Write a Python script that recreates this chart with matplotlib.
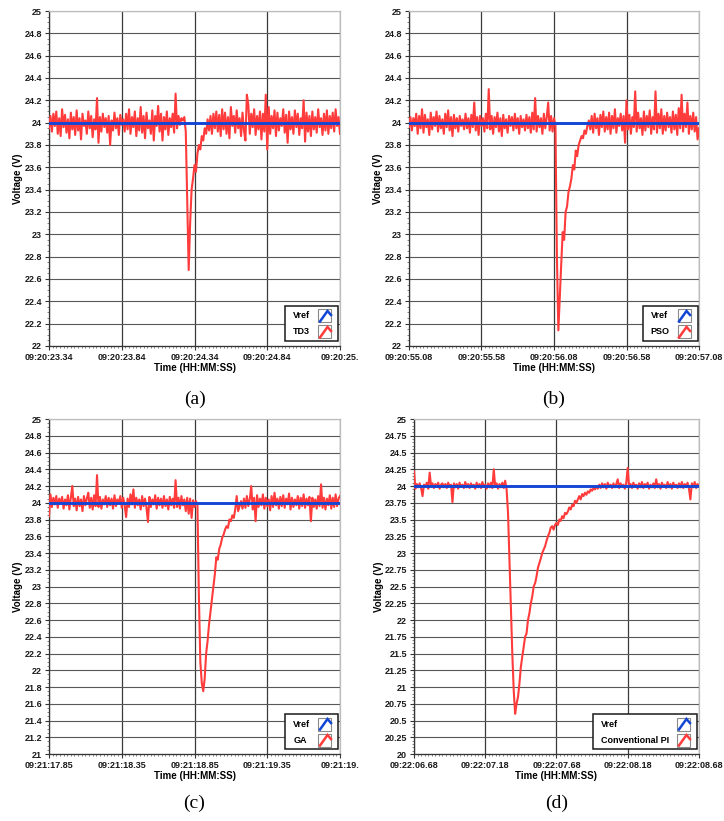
#!/usr/bin/env python
# -*- coding: utf-8 -*-
"""
Load-step response of the DC bus voltage for four controllers (TD3, PSO, GA, PI),
redrawn in the LabVIEW chart look: white plot area, grey grid, small legend box.
"""

import matplotlib

matplotlib.use("Agg")  # headless
import matplotlib.pyplot as plt
import numpy as np
from matplotlib.lines import Line2D
from matplotlib.patches import Rectangle
from matplotlib.ticker import FixedLocator, MultipleLocator

plt.rcParams["font.family"] = ["Liberation Sans", "DejaVu Sans"]

FIG_W, FIG_H = 724, 821  # px at dpi 100
DT = 0.01  # s between logged samples
VREF = 24.0  # V

TD3_V = [
    23.95, 24.06, 23.92, 24.08, 23.97, 24.10, 23.90, 24.04, 23.88, 24.12, 23.96, 24.07, 23.91, 24.03, 23.86, 24.09, 23.94, 24.05, 23.89, 24.11,
    23.93, 24.04, 23.85, 24.08, 23.97, 24.02, 23.90, 24.10, 23.95, 24.06, 23.87, 24.03, 23.94, 24.22, 23.82, 24.05, 23.92, 24.08, 23.96, 24.04,
    23.91, 24.06, 23.80, 24.02, 23.93, 24.09, 23.95, 24.04, 23.89, 24.07, 23.98, 24.03, 23.92, 24.08, 23.94, 24.12, 23.90, 24.05, 23.96, 24.10,
    23.88, 24.04, 23.93, 24.14, 23.91, 24.06, 23.86, 24.09, 23.95, 24.02, 23.90, 24.11, 23.84, 24.06, 23.97, 24.15, 23.92, 24.08, 23.84, 24.05,
    23.94, 24.10, 23.89, 24.04, 23.96, 24.08, 23.91, 24.26, 23.95, 24.06, 23.98, 24.04, 24.02, 24.05, 23.92,
    23.30, 22.68, 23.10, 23.40, 23.50, 23.62, 23.56, 23.72, 23.80, 23.76, 23.88, 23.84, 23.95, 23.90, 24.03, 23.93, 24.06, 23.90, 24.08, 23.95,
    24.10, 23.92, 24.07, 23.88, 24.12,
    23.94, 24.09, 23.90, 24.05, 23.86, 24.14, 23.97, 24.06, 23.91, 24.11, 23.95, 24.04, 23.88, 24.09, 23.93, 23.84, 24.25, 24.16, 23.90, 24.08,
    23.96, 24.12, 23.89, 24.06, 23.94, 24.10, 23.85, 24.08, 23.92, 24.25, 23.76, 24.14, 23.90, 24.06, 23.95, 24.11, 23.88, 24.09, 23.93, 24.04,
    23.97, 24.12, 23.91, 24.07, 23.82, 24.10, 23.94, 24.05, 23.90, 24.11, 23.96, 24.08, 23.89, 24.04, 23.95, 24.20, 23.83, 24.09, 23.92, 24.06,
    23.88, 24.10, 23.94, 24.05, 23.91, 24.12, 23.96, 24.04, 23.89, 24.08, 23.93, 24.11, 23.90, 24.06, 23.95, 24.09, 23.92, 24.12, 23.97, 24.05,
    23.90,
]

PSO_V = [
    23.96, 24.05, 23.93, 24.04, 23.97, 24.08, 23.90, 24.06, 23.95, 24.12, 23.91, 24.07, 23.96, 24.03, 23.89, 24.09, 23.94, 24.05, 23.97, 24.10,
    23.92, 24.06, 23.95, 24.03, 23.90, 24.08, 23.96, 24.11, 23.93, 24.05, 23.88, 24.07, 23.95, 24.04, 23.92, 24.06, 23.97, 24.03, 23.94, 24.08,
    23.95, 24.04, 23.91, 24.07, 23.96, 24.18, 23.93, 24.05, 23.89, 24.06, 23.97, 24.04, 23.92, 24.08, 23.95, 24.30, 23.94, 24.06, 23.90, 24.05,
    23.96, 24.09, 23.92, 24.04, 23.88, 24.07, 23.95, 24.03, 23.91, 24.06, 23.97, 24.05, 23.93, 24.08, 23.95, 24.04, 23.90, 24.06, 23.96, 24.03,
    23.93, 24.07, 23.95, 24.05, 23.91, 24.09, 23.94, 24.22, 23.92, 24.06, 23.96, 24.04, 23.90, 24.08, 23.95, 24.05, 24.18, 23.93, 24.06, 23.92,
    24.04, 23.97,
    22.80, 22.14, 22.45, 22.74, 23.02, 22.95, 23.20, 23.25, 23.38, 23.43, 23.50, 23.62, 23.58, 23.75, 23.70, 23.80, 23.84, 23.88, 23.86, 23.93,
    23.90, 23.97, 24.02, 23.94,
    24.06, 23.91, 24.08, 23.95, 24.04, 23.89, 24.07, 23.96, 24.10, 23.92, 24.05, 23.94, 24.09, 23.90,
    24.06, 23.95, 24.12, 23.91, 24.04, 23.97, 24.08, 23.93, 24.06, 23.82, 24.20, 23.94, 24.07, 23.90, 24.05, 23.96, 24.28, 23.92, 24.09, 23.95,
    24.04, 23.89, 24.10, 23.93, 24.06, 23.96, 24.11, 23.90, 24.05, 23.94, 24.28, 23.91, 24.08, 23.95, 24.12, 23.90, 24.06, 23.93, 24.09, 23.96,
    24.05, 23.91, 24.10, 23.94, 24.07, 23.89, 24.13, 23.95, 24.25, 23.92, 24.08, 23.96, 24.18, 23.90, 24.06, 23.94, 24.09, 23.92, 24.05, 23.85,
    23.95,
]

GA_V = [
    23.84, 24.10, 23.95, 24.06, 23.98, 24.08, 23.94, 24.05, 23.99, 24.07, 23.93, 24.04, 23.97, 24.09, 23.92, 24.06, 24.20, 23.96, 24.05, 23.91,
    24.07, 23.96, 24.04, 23.90, 24.08, 23.97, 24.05, 24.12, 23.94, 24.06, 23.92, 24.09, 23.96, 24.33, 23.95, 24.07, 23.93, 24.04, 23.98, 24.08,
    23.95, 24.06, 23.97, 24.05, 23.93, 24.09, 23.96, 24.04, 23.99, 24.08, 23.94, 24.06, 23.97, 23.83, 24.05, 23.95, 24.10, 23.98, 24.16, 23.94,
    24.06, 23.97, 24.04, 23.92, 24.08, 23.96, 24.05, 23.94, 23.77, 24.07, 23.95, 24.04, 23.98, 24.09, 23.93, 24.06, 23.97, 24.05, 23.94, 24.08,
    23.96, 24.04, 23.92, 24.07, 23.97, 24.05, 23.94, 24.27, 23.95, 24.06, 23.93, 24.08, 23.97, 24.04, 23.90, 24.06, 23.87, 24.05, 23.82, 24.03,
    23.95, 24.02, 23.98,
    22.90, 22.10, 21.85, 21.75, 21.90, 22.20, 22.35, 22.55, 22.70, 22.85, 23.00, 23.15, 23.35, 23.32, 23.45, 23.50, 23.58, 23.62, 23.68, 23.72,
    23.70, 23.80, 23.78, 23.85, 23.82, 23.92, 24.08, 23.90, 23.96, 24.02, 23.93, 24.05,
    23.94, 24.08, 23.96, 24.04, 24.20, 23.92, 24.06, 23.78, 24.09, 23.95, 24.05, 23.97, 24.10, 23.93, 24.06, 23.96, 24.04, 23.91, 24.08, 23.95,
    24.12, 23.97, 24.05, 23.93, 24.07,
    23.96, 24.09, 23.94, 24.05, 23.98, 24.11, 23.92, 24.06, 23.95, 24.04, 23.97, 24.08, 23.93, 24.06, 23.96, 24.10, 23.94, 24.05, 23.97, 24.07,
    23.78, 24.06, 23.95, 24.04, 23.93, 24.08, 23.96, 24.22, 23.94, 24.06, 23.92, 24.05, 23.97, 24.09, 23.93, 24.06, 23.95, 24.10, 23.96, 24.05,
    24.08,
]

PI_V = [
    24.22, 23.96, 24.03, 23.98, 24.04, 23.97, 23.85, 24.02, 23.99, 24.05, 23.96, 24.20, 24.00, 24.04, 23.97, 24.03, 23.99, 24.05, 23.96, 24.02,
    24.04, 23.98, 24.03, 23.97, 24.05, 23.99, 24.02, 23.76, 24.04, 23.98, 24.03, 23.96, 24.05, 23.99, 24.02, 23.97, 24.06, 23.98, 24.03, 23.97,
    24.04, 23.99, 24.02, 23.96, 24.05, 23.98, 24.03, 23.97, 24.06, 23.99, 24.02, 23.96, 24.04, 23.98, 24.05, 23.97, 24.25, 23.99, 24.04, 23.96,
    24.03, 23.98, 24.05, 23.97, 24.08, 23.95,
    23.60, 22.90, 22.20, 21.50, 20.95, 20.60, 20.75, 20.85, 21.05, 21.30, 21.45, 21.60, 21.75, 21.80, 22.00, 22.10, 22.25, 22.35, 22.50, 22.55,
    22.65, 22.78, 22.85, 22.92, 23.00, 23.05, 23.10, 23.18, 23.25, 23.30, 23.38, 23.40, 23.35, 23.42, 23.45, 23.42, 23.50, 23.48, 23.55, 23.52,
    23.60, 23.58, 23.62, 23.68, 23.65, 23.72, 23.70, 23.78, 23.75, 23.80, 23.85, 23.80, 23.88, 23.85, 23.90, 23.87, 23.92, 23.90, 23.95, 23.93,
    23.97, 23.95, 24.00, 23.96,
    24.02, 23.97, 24.04, 23.98, 24.03, 23.96, 24.05, 23.99, 24.02, 23.97, 24.04, 23.98, 24.03, 24.10, 23.97, 24.04, 23.99, 24.02, 23.96, 24.05,
    24.27, 23.98, 24.03, 23.97, 24.05, 23.99, 24.02, 23.96, 24.04, 23.98, 24.06, 23.97, 24.03, 23.99, 24.05, 23.96, 24.02, 23.98, 24.04, 23.97,
    24.10, 23.98, 24.03, 23.96, 24.05, 23.99, 24.02, 23.97, 24.06, 23.98, 24.03, 23.96, 24.05, 23.99, 24.02, 23.97, 24.04, 23.98, 24.06, 23.97,
    24.03, 23.99, 24.05, 23.96, 23.80, 24.04, 23.98, 24.06, 23.97, 24.03, 24.00,
]

# time-axis labels as printed by the logger (the last ones really are cut off)
XTICK_POS = [0.0, 0.5, 1.0, 1.5, 2.0]
TD3_XTICKS = ["09:20:23.34", "09:20:23.84", "09:20:24.34", "09:20:24.84", "09:20:25."]
PSO_XTICKS = ["09:20:55.08", "09:20:55.58", "09:20:56.08", "09:20:56.58", "09:20:57.08"]
GA_XTICKS = ["09:21:17.85", "09:21:18.35", "09:21:18.85", "09:21:19.35", "09:21:19."]
PI_XTICKS = ["09:22:06.68", "09:22:07.18", "09:22:07.68", "09:22:08.18", "09:22:08.68"]

RED = "#ff3b3b"
BLUE = "#1446d6"
TICK_FONT = dict(fontsize=6.5, fontweight="bold", color="#1a1a1a")


def draw_legend(ax, entries):
    """LabVIEW style legend: label on the left, small boxed swatch on the right."""
    fig = ax.figure
    renderer = fig.canvas.get_renderer()
    pos = ax.get_position()
    W, H = pos.width * FIG_W, pos.height * FIG_H  # axes size in px

    def fx(px):
        return px / W

    def fy(px):
        return px / H

    pad_l, pad_r, gap, icon, row, pad_v = 8, 6, 8, 14, 16, 2
    texts = []
    for label, _ in entries:
        t = ax.text(0, 0, label, transform=ax.transAxes, fontsize=6.5, fontweight="bold",
                    ha="left", va="center", zorder=12)
        texts.append(t)
    tw = max(t.get_window_extent(renderer=renderer).width for t in texts)

    box_w = pad_l + tw + gap + icon + pad_r
    box_h = 2 * pad_v + row * len(entries) - 1
    right, bottom = W - 1.5, 5.0
    left = right - box_w
    ax.add_patch(Rectangle((fx(left), fy(bottom)), fx(box_w), fy(box_h), transform=ax.transAxes,
                           facecolor="white", edgecolor="#1a1a1a", lw=1.1, zorder=11, clip_on=False))

    for i, ((label, color), t) in enumerate(zip(entries, texts)):
        yc = bottom + box_h - pad_v - row * (i + 0.5)
        t.set_position((fx(left + pad_l), fy(yc)))
        ix0 = right - pad_r - icon
        ax.add_patch(Rectangle((fx(ix0), fy(yc - 6.5)), fx(icon - 1), fy(13), transform=ax.transAxes,
                               facecolor="white", edgecolor="#8a8a8a", lw=0.8, zorder=12, clip_on=False))
        xs = [fx(ix0 + 1.5), fx(ix0 + 9), fx(ix0 + 12.5)]
        ys = [fy(yc - 5.5), fy(yc + 5), fy(yc + 1)]
        ax.add_line(Line2D(xs, ys, transform=ax.transAxes, color=color, lw=1.8, zorder=13,
                           solid_joinstyle="miter", clip_on=False))


def draw_panel(fig, rect, volts, xticklabels, ymin, ystep, yminor, name, caption, ylab_x):
    ax = fig.add_axes(rect)
    v = np.asarray(volts, dtype=float)
    t = np.arange(len(v)) * DT

    ax.plot(t, v, color=RED, lw=1.5, zorder=3)
    ax.plot(t, np.full_like(t, VREF), color=BLUE, lw=2.1, zorder=4)

    ax.set_xlim(XTICK_POS[0], XTICK_POS[-1])
    ax.set_ylim(ymin, 25)
    ax.xaxis.set_major_locator(FixedLocator(XTICK_POS))
    ax.set_xticklabels(xticklabels, **TICK_FONT)
    ax.xaxis.set_minor_locator(MultipleLocator(0.025))
    yt = np.arange(ymin, 25 + ystep / 2, ystep)
    ax.set_yticks(yt)
    ax.set_yticklabels(["{:g}".format(round(y, 2)) for y in yt], **TICK_FONT)
    ax.yaxis.set_minor_locator(MultipleLocator(yminor))
    ax.tick_params(which="major", length=3, width=0.8, color="#333333", pad=2)
    ax.tick_params(which="minor", length=1.5, width=0.5, color="#555555")

    ax.grid(True, axis="y", which="major", color="#585858", lw=0.8)
    ax.grid(True, axis="x", which="major", color="#3a3a3a", lw=0.9)
    ax.set_axisbelow(True)

    for side in ("left", "bottom"):
        ax.spines[side].set_color("#333333")
        ax.spines[side].set_linewidth(0.9)
    for side in ("top", "right"):
        ax.spines[side].set_color("#bdbdbd")
        ax.spines[side].set_linewidth(0.9)

    ax.set_xlabel("Time (HH:MM:SS)", fontsize=7, fontweight="bold", va="center")
    ax.xaxis.set_label_coords(0.5, -0.066)
    ax.set_ylabel("Voltage (V)", fontsize=7, fontweight="bold", va="center")
    ax.yaxis.set_label_coords(ylab_x, 0.5)

    draw_legend(ax, [("Vref", BLUE), (name, RED)])

    fig.text(rect[0] + rect[2] / 2, caption[1], caption[0], ha="center", va="center",
             fontsize=14, family=["Liberation Serif", "DejaVu Serif"])
    return ax


def main():
    fig = plt.figure(figsize=(FIG_W / 100, FIG_H / 100), dpi=100)
    fig.patch.set_facecolor("white")

    draw_panel(fig, [0.0677, 0.5786, 0.4019, 0.408], TD3_V, TD3_XTICKS, 22, 0.2, 0.05,
               "TD3", ("(a)", 0.513), -0.107)
    draw_panel(fig, [0.5649, 0.5786, 0.4006, 0.408], PSO_V, PSO_XTICKS, 22, 0.2, 0.05,
               "PSO", ("(b)", 0.513), -0.107)
    draw_panel(fig, [0.0677, 0.0816, 0.4019, 0.408], GA_V, GA_XTICKS, 21, 0.2, 0.05,
               "GA", ("(c)", 0.022), -0.107)
    draw_panel(fig, [0.5718, 0.0816, 0.3936, 0.408], PI_V, PI_XTICKS, 20, 0.25, 0.05,
               "Conventional PI", ("(d)", 0.022), -0.124)

    fig.savefig("out.png", dpi=100, facecolor="white")
    plt.close(fig)


if __name__ == "__main__":
    main()
